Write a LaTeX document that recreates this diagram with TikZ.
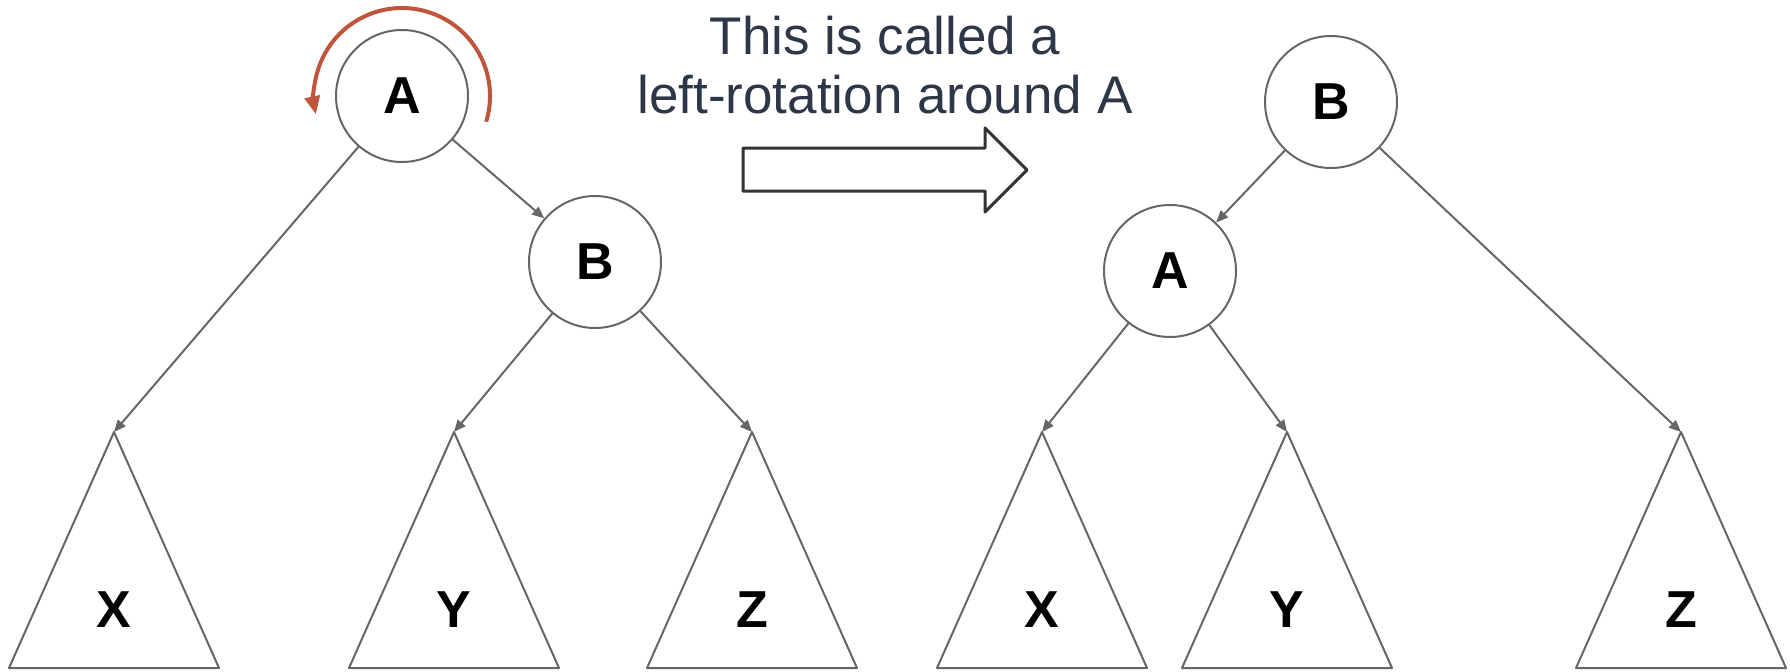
\documentclass[tikz,border=0pt]{standalone}
\usepackage{fontspec}
\setmainfont{Liberation Sans}
\usetikzlibrary{arrows.meta}
\definecolor{edgegray}{RGB}{102,102,102}
\definecolor{turnred}{RGB}{190,85,60}
\definecolor{captionblue}{RGB}{45,55,72}
\definecolor{shiftgray}{RGB}{51,51,51}

\begin{document}
\begin{tikzpicture}[x=0.5pt, y=-0.5pt,
    keynode/.style={circle, draw=edgegray, line width=1pt, minimum size=66pt, inner sep=0pt,
        font=\fontsize{26}{30}\selectfont\bfseries},
    leaflabel/.style={inner sep=0pt, font=\fontsize{26}{30}\selectfont\bfseries},
    subtree/.style={draw=edgegray, line width=1pt, line join=round},
    link/.style={draw=edgegray, line width=1pt, -{Triangle[length=6pt,width=5pt]}},
    turn/.style={draw=turnred, line width=2pt, -{Triangle[length=9pt,width=7.5pt]}}]
\useasboundingbox (0,0) rectangle (1790,671);

% Main nodes
\node (leftA) [keynode] at (402,96) {A};
\node (leftB) [keynode] at (595,262) {B};
\node (rightB) [keynode] at (1331,102) {B};
\node (rightA) [keynode] at (1170,271) {A};

% Subtrees as triangles, apex kept as a coordinate
\foreach \name/\x/\lbl in {lx/114/X, ly/454/Y, lz/752/Z, rx/1042/X, ry/1287/Y, rz/1681/Z} {
    \coordinate (\name-apex) at (\x,432);
    \draw [subtree] (\name-apex) -- ++(-105,236) -- ++(210,0) -- cycle;
    \node (\name) [leaflabel] at (\x,610) {\lbl};
}

% Edges before the rotation
\draw [link] (leftA) -- (lx-apex);
\draw [link] (leftA) -- (leftB);
\draw [link] (leftB) -- (ly-apex);
\draw [link] (leftB) -- (lz-apex);

% Edges after the rotation
\draw [link] (rightB) -- (rightA);
\draw [link] (rightB) -- (rz-apex);
\draw [link] (rightA) -- (rx-apex);
\draw [link] (rightA) -- (ry-apex);

% Turning arrow round A
\draw [turn] (leftA.center) ++(17:88) arc[start angle=17, end angle=-192, radius=88];

% Caption and the big arrow
\node (caption) [align=center, text=captionblue, inner sep=0pt,
    font=\fontsize{26.5}{29.5}\selectfont] at (885,65) {This is called a\\left-rotation around A};
\draw [shiftgray, line width=1.5pt, line join=round]
    (743,148) -- (985,148) -- (985,128) -- (1027,170) -- (985,212) -- (985,191) -- (743,191) -- cycle;
\end{tikzpicture}
\end{document}
